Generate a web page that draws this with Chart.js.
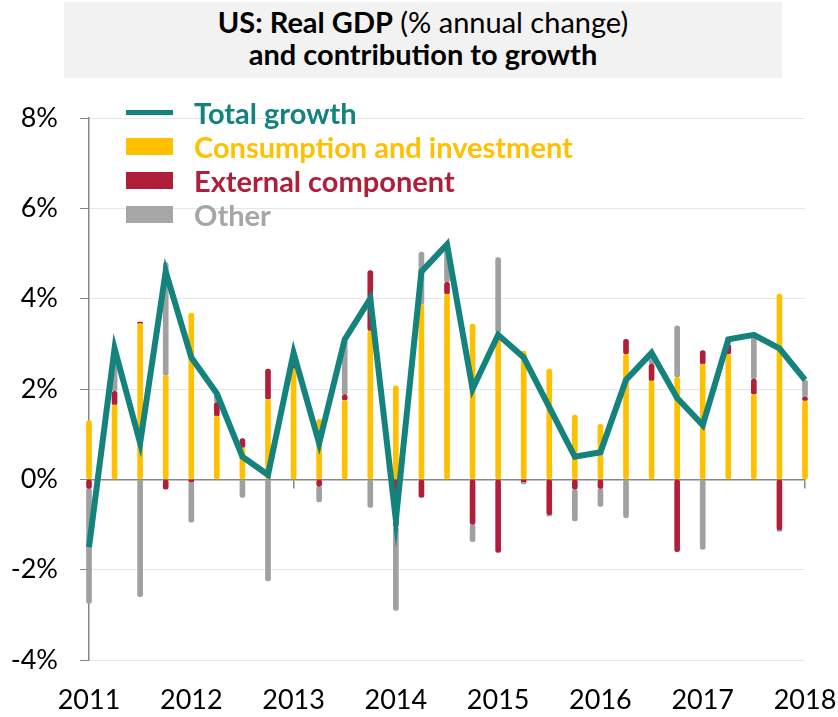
<!DOCTYPE html>
<html>
<head>
<meta charset="utf-8">
<title>US: Real GDP and contribution to growth</title>
<script src="https://cdn.jsdelivr.net/npm/chart.js@4.4.0/dist/chart.umd.min.js"></script>
<style>
    body { margin: 0; background: #fff; }
    #wrap { position: relative; width: 838px; height: 717px; font-family: Lato, sans-serif; }
    #gdp { position: absolute; left: 0; top: 0; }
    #title {
        position: absolute; left: 64px; top: 2px; width: 718px; height: 76px;
        box-sizing: border-box; padding-top: 4px;
        background: #f2f2f2; color: #000; text-align: center;
        font-size: 29px; line-height: 32px;
    }
    #legend { position: absolute; left: 126px; top: 95px; }
    .row { display: flex; align-items: center; height: 34px; font-size: 29px; font-weight: bold; white-space: nowrap; }
    .swatch { width: 47px; margin-right: 21px; }
</style>
</head>
<body>
<div id="wrap">
    <canvas id="gdp" width="838" height="717"></canvas>
    <div id="title"><b>US: Real GDP</b> (% annual change)<br><b>and contribution to growth</b></div>
    <div id="legend"></div>
</div>
<script>
// quarters 2011 Q1 .. 2018 Q1
const quarters = [
    '2011 Q1', '2011 Q2', '2011 Q3', '2011 Q4',
    '2012 Q1', '2012 Q2', '2012 Q3', '2012 Q4',
    '2013 Q1', '2013 Q2', '2013 Q3', '2013 Q4',
    '2014 Q1', '2014 Q2', '2014 Q3', '2014 Q4',
    '2015 Q1', '2015 Q2', '2015 Q3', '2015 Q4',
    '2016 Q1', '2016 Q2', '2016 Q3', '2016 Q4',
    '2017 Q1', '2017 Q2', '2017 Q3', '2017 Q4',
    '2018 Q1'
];
const yearTicks = ['2011', '2012', '2013', '2014', '2015', '2016', '2017', '2018'];

// % annual change
const totalGrowth = [
    -1.5, 2.9, 0.8, 4.6,
    2.7, 1.9, 0.5, 0.1,
    2.8, 0.8, 3.1, 4.0,
    -0.9, 4.6, 5.2, 2.0,
    3.2, 2.7, 1.6, 0.5,
    0.6, 2.2, 2.8, 1.8,
    1.2, 3.1, 3.2, 2.9,
    2.2
];
const consumptionInvestment = [
    1.3, 1.65, 3.45, 2.3,
    3.68, 1.4, 0.7, 1.77,
    2.45, 1.33, 1.75, 3.29,
    2.07, 3.88, 4.1, 3.44,
    3.25, 2.84, 2.44, 1.42,
    1.22, 2.77, 2.18, 2.26,
    2.55, 2.77, 1.88, 4.1,
    1.74
];
const externalComponent = [
    -0.2, 0.3, 0.03, -0.22,
    -0.05, 0.3, 0.2, 0.67,
    0.1, -0.15, 0.12, 1.33,
    -1.05, -0.4, 0.26, -1.0,
    -1.62, -0.05, -0.78, -0.22,
    -0.2, 0.33, 0.37, -1.6,
    0.3, 0.22, 0.34, -1.12,
    0.08
];
const other = [
    -2.55, 0.95, -2.6, 2.5,
    -0.9, 0.2, -0.4, -2.25,
    0.25, -0.35, 1.2, -0.62,
    -1.85, 1.15, 0.85, -0.38,
    1.66, -0.05, -0.03, -0.7,
    -0.4, -0.85, 0.25, 1.14,
    -1.55, 0.1, 0.98, -0.03,
    0.38
];

const TEAL = '#14837e';
const YELLOW = '#ffc000';
const RED = '#b01e3a';
const GRAY = '#a0a0a0';
const AXIS = '#868686';

// legend (html, sits over the top of the plot like the original)
const legendItems = [
    { text: 'Total growth', color: TEAL, line: true },
    { text: 'Consumption and investment', color: YELLOW },
    { text: 'External component', color: RED },
    { text: 'Other', color: '#a6a6a6' }
];
document.getElementById('legend').innerHTML = legendItems.map(item =>
    `<div class="row" style="color:${item.color}">` +
    `<span class="swatch" style="height:${item.line ? 5 : 17}px;background:${item.line ? TEAL : item.color}"></span>` +
    `${item.text}</div>`
).join('');

const radius = { topLeft: 2.5, topRight: 2.5, bottomLeft: 2.5, bottomRight: 2.5 };
function barSet(label, data, color) {
    return {
        type: 'bar',
        label: label,
        data: data,
        backgroundColor: color,
        barThickness: 5,
        borderSkipped: false,
        borderRadius: radius,
        clip: false,
        order: 1
    };
}

// keep the plot edge where the original has it
function fixHorizontal(height) {
    return s => {
        s.height = height;
        s.paddingLeft = 0;
        s.paddingRight = 0;
    };
}

new Chart(document.getElementById('gdp'), {
    data: {
        labels: quarters,
        datasets: [
            {
                type: 'line',
                label: 'Total growth',
                data: totalGrowth,
                borderColor: TEAL,
                backgroundColor: TEAL,
                borderWidth: 6,
                pointRadius: 0,
                tension: 0,
                clip: false,
                order: 0
            },
            barSet('Consumption and investment', consumptionInvestment, YELLOW),
            barSet('External component', externalComponent, RED),
            barSet('Other', other, GRAY)
        ]
    },
    options: {
        responsive: false,
        devicePixelRatio: 1,
        animation: false,
        layout: { padding: { top: 118, right: 33, bottom: 0, left: 0 } },
        plugins: {
            legend: { display: false },
            tooltip: { enabled: false }
        },
        scales: {
            // axis line at 0% with year tick marks, takes no layout space
            x: {
                type: 'category',
                position: { y: 0 },
                offset: false,
                stacked: true,
                afterFit: fixHorizontal(0),
                border: { color: AXIS, width: 1.5 },
                grid: {
                    offset: false,
                    drawOnChartArea: false,
                    tickLength: 8,
                    lineWidth: 1.5,
                    color: ctx => ctx.index % 4 === 0 ? AXIS : 'rgba(0,0,0,0)'
                },
                ticks: { display: false, autoSkip: false }
            },
            // year labels at the bottom
            x2: {
                type: 'category',
                position: 'bottom',
                offset: false,
                afterFit: fixHorizontal(57),
                border: { display: false },
                grid: { display: false, drawTicks: false, offset: false },
                ticks: {
                    autoSkip: false,
                    maxRotation: 0,
                    minRotation: 0,
                    padding: 24,
                    color: '#000',
                    font: { family: 'Lato', size: 27 },
                    callback: (v, i) => i % 4 === 0 ? yearTicks[i / 4] : ''
                }
            },
            y: {
                stacked: true,
                min: -4,
                max: 8,
                afterFit: s => { s.width = 89; },
                border: { color: AXIS, width: 1.5 },
                grid: {
                    color: '#e6e6e6',
                    tickColor: AXIS,
                    tickLength: 9,
                    lineWidth: 1
                },
                ticks: {
                    stepSize: 2,
                    padding: 22,
                    color: '#000',
                    font: { family: 'Lato', size: 27 },
                    callback: v => v + '%'
                }
            }
        }
    }
});
</script>
</body>
</html>
